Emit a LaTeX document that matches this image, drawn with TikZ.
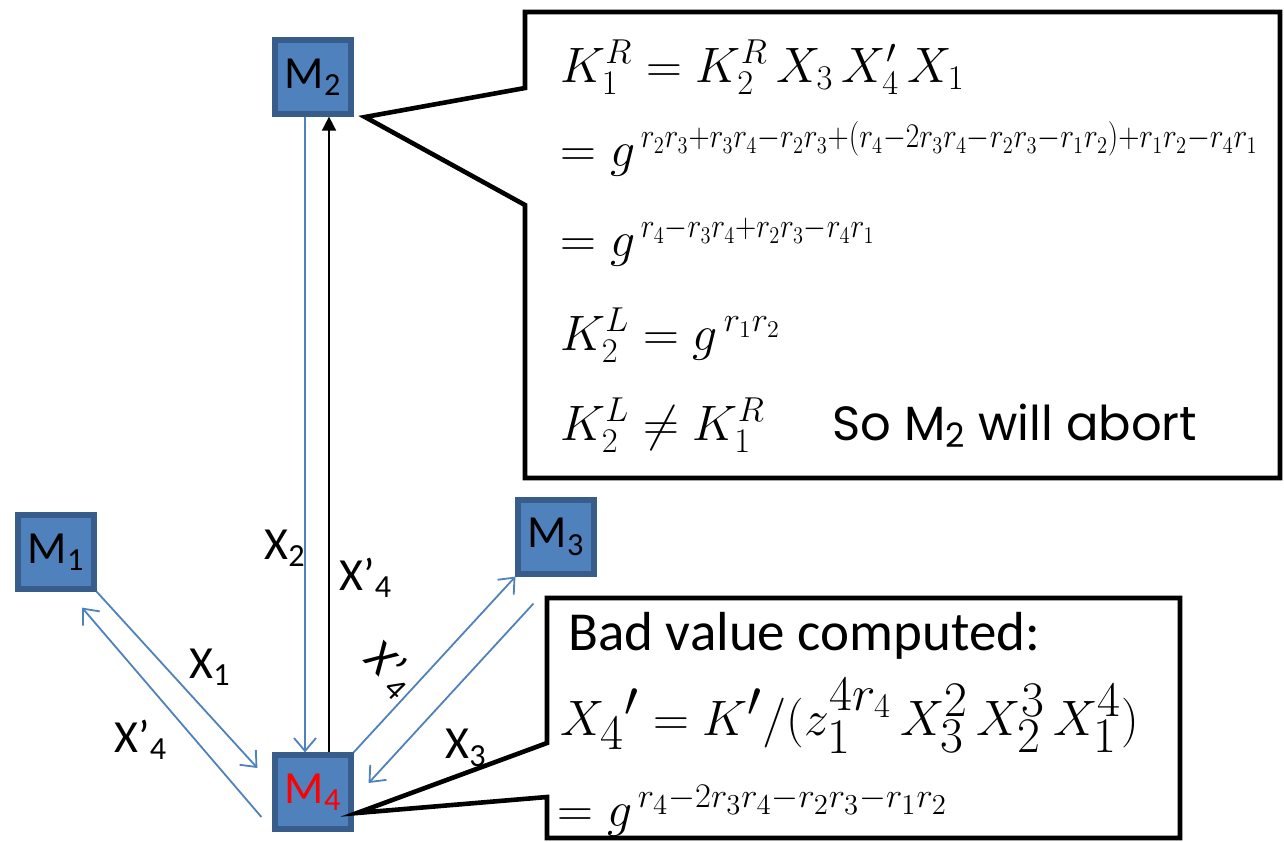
\documentclass[tikz,border=0pt]{standalone}
\usepackage[no-math]{fontspec}
\usepackage{graphicx}
\setmainfont{Carlito}
\newfontfamily\abortfont{Poppins}
\usepackage{tikz}
\usetikzlibrary{arrows.meta}
\definecolor{mfill}{RGB}{79,129,189}
\definecolor{mline}{RGB}{56,93,138}
\newcommand{\sqzexp}[1]{\scalebox{0.85}[1]{$\scriptstyle #1$}}

\begin{document}
\begin{tikzpicture}[
  x=0.5pt, y=0.5pt,
  mbox/.style={draw=mline, fill=mfill, line width=2.6pt, minimum width=38pt,
               minimum height=37pt, inner sep=0pt, font=\fontsize{23}{26}\selectfont},
  marr/.style={-{Straight Barb[length=6.5pt,width=11pt]}, line width=0.9pt, draw=mfill},
  karr/.style={-{Triangle[length=7pt,width=7pt]}, line width=0.8pt, draw=black},
  mlab/.style={font=\fontsize{23}{26}\selectfont, inner sep=0pt},
  callout/.style={draw=black, line width=2.3pt, fill=white, line join=miter},
  eqline/.style={anchor=base west, inner sep=0pt, font=\fontsize{26}{30}\selectfont},
  badline/.style={anchor=base west, inner sep=0pt, font=\fontsize{27.5}{30}\selectfont},
]
  \useasboundingbox (0,0) rectangle (1284,-841);
  % parties
  \node[mbox] (m2) at (313,-77) {M\textsubscript{2}};
  \node[mbox] (m1) at (56,-552) {M\textsubscript{1}};
  \node[mbox] (m3) at (556,-537) {M\textsubscript{3}};
  \node[mbox, text=red] (m4) at (313,-792) {M\textsubscript{4}};
  % messages
  \draw[marr] ([xshift=-4pt]m2.south) -- ([xshift=-4pt]m4.north);
  \draw[karr] ([xshift=8pt]m4.north) -- ([xshift=8pt]m2.south);
  \draw[marr] (m1.south east) -- ([xshift=-7.5pt,yshift=12pt]m4.west);
  \draw[marr] ([xshift=-5.5pt,yshift=-12.5pt]m4.west) -- ([xshift=13pt,yshift=-8pt]m1.south);
  \draw[marr] (m4.north east) -- (m3.south west);
  \draw[marr] ([xshift=9pt,yshift=-13.5pt]m3.south west) -- ([xshift=7.5pt,yshift=4.5pt]m4.east);
  \node[mlab] (lx2) at (285,-548) {X\textsubscript{2}};
  \node[mlab] (lx4a) at (366,-578) {X’\textsubscript{4}};
  \node[mlab] (lx1) at (210,-667) {X\textsubscript{1}};
  \node[mlab] (lx4b) at (141,-740) {X’\textsubscript{4}};
  \node[mlab, rotate=-45] (lx4c) at (390,-670) {X’\textsubscript{4}};
  \node[mlab] (lx3) at (466,-748) {X\textsubscript{3}};
  % callout at M2
  \coordinate (tip1) at (365,-117);
  \draw[callout] (tip1) -- (525,-88) -- (525,-12) -- (1280,-12) -- (1280,-478)
    -- (525,-478) -- (525,-205) -- cycle;
  \node[eqline] (k1r) at (560,-82) {$K_1^R = K_2^R\,X_3\,X'_4\,X_1$};
  \node[eqline] (eq2) at (560,-166)
    {$= g^{\,\sqzexp{r_2r_3+r_3r_4-r_2r_3+(r_4-2r_3r_4-r_2r_3-r_1r_2)+r_1r_2-r_4r_1}}$};
  \node[eqline] (eq3) at (560,-256) {$= g^{\,\sqzexp{r_4-r_3r_4+r_2r_3-r_4r_1}}$};
  \node[eqline] (k2l) at (560,-350) {$K_2^L = g^{\,r_1r_2}$};
  \node[eqline] (neq) at (560,-440) {$K_2^L \neq K_1^R$};
  \node[anchor=base west, inner sep=0pt, font=\abortfont\fontsize{24}{28}\selectfont]
    (abort) at (832,-440) {So M\textsubscript{2} will abort};
  % callout at M4
  \coordinate (tip2) at (357,-813);
  \draw[callout] (tip2) -- (547,-743) -- (547,-598) -- (1180,-598) -- (1180,-838)
    -- (547,-838) -- (547,-797) -- cycle;
  \node[badline] (bad) at (568,-650) {Bad value computed:};
  \node[eqline, font=\fontsize{33}{36}\selectfont] (x4) at (560,-735)
    {$X_4{}'= K'/(z_1^{4r_4}\,X_3^2\,X_2^3\,X_1^4)$};
  \node[eqline, font=\fontsize{27}{30}\selectfont] (eq4) at (557,-826)
    {$= g^{\,r_4-2r_3r_4-r_2r_3-r_1r_2}$};
\end{tikzpicture}
\end{document}
